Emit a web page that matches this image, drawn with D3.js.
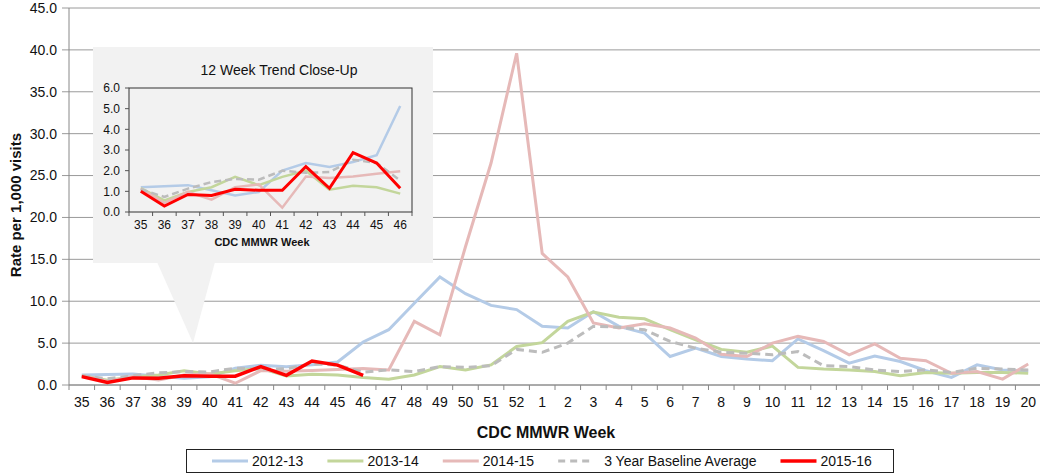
<html lang="en">
<head>
  <meta charset="utf-8"/>
  <title>ILI Rate per 1,000 visits</title>
  <script src="https://d3js.org/d3.v7.min.js"></script>
  <style>
  * { font-family: "Liberation Sans", Arial, sans-serif; }
  body { margin: 0; background: #fff; }
  .grid line { stroke: #9a9a9a; stroke-width: 1px; }
  .axis-lbl { font-size: 14px; fill: #111; }
  .title { font-weight: bold; fill: #111; }
  </style>
</head>
<body>
  <svg id="chart" width="1040" height="475"></svg>
  <script>
    const weeks = ["35","36","37","38","39","40","41","42","43","44","45","46","47","48","49","50","51","52",
                   "1","2","3","4","5","6","7","8","9","10","11","12","13","14","15","16","17","18","19","20"];
    const s1213 = [1.2,1.25,1.3,1.05,0.8,0.97,2.0,2.37,2.18,2.42,2.75,5.13,6.6,9.75,12.9,10.9,9.5,9.0,
                   7.0,6.8,8.75,7.0,6.2,3.4,4.4,3.4,3.1,2.9,5.5,4.1,2.6,3.46,2.8,1.7,0.9,2.4,1.8,1.67];
    const s1314 = [1.15,0.56,0.97,1.2,1.7,1.3,1.7,2.0,1.08,1.27,1.2,0.89,0.7,1.2,2.2,1.8,2.4,4.6,
                   5.05,7.6,8.7,8.1,7.9,6.6,5.4,4.25,3.9,4.65,2.1,1.9,1.8,1.6,1.1,1.5,1.4,1.5,1.5,1.4];
    const s1415 = [1.13,0.44,0.97,0.6,1.2,1.34,0.21,1.72,1.65,1.72,1.85,1.97,1.8,7.6,6.0,16.5,26.5,39.6,
                   15.7,12.9,7.4,6.8,7.3,6.8,5.6,3.66,3.4,5.0,5.8,5.2,3.6,4.9,3.2,2.9,1.4,1.6,0.7,2.5];
    const baseline = [1.1,0.73,1.13,1.45,1.6,1.56,2.0,1.9,1.93,2.53,2.37,1.53,1.8,1.6,2.2,2.1,2.3,4.25,
                   3.9,5.0,7.0,6.9,6.6,5.2,4.4,3.9,3.8,3.6,4.0,2.3,2.2,1.8,1.6,1.8,1.5,2.0,1.9,1.8];
    const s1516 = [1.0,0.29,0.85,0.8,1.1,1.05,1.05,2.2,1.15,2.87,2.37,1.15];
    const yTicks = [0,5,10,15,20,25,30,35,40,45];
    const insetTicks = [0,1,2,3,4,5,6];
    const insetWeeks = weeks.slice(0, 12);

    const series = [
      { name: "2012-13", values: s1213, color: "#b4cbe7", width: 3, dash: null },
      { name: "2013-14", values: s1314, color: "#c3d69b", width: 3, dash: null },
      { name: "2014-15", values: s1415, color: "#e6b9b8", width: 3, dash: null },
      { name: "3 Year Baseline Average", values: baseline, color: "#bcbcbc", width: 3, dash: "8,5" },
      { name: "2015-16", values: s1516, color: "#ff0000", width: 3.5, dash: null }
    ];

    const svg = d3.select("#chart");
    const plot = { left: 69, right: 1041, top: 8, bottom: 385 };

    const x = d3.scaleBand().domain(weeks).range([plot.left, plot.right]);
    const y = d3.scaleLinear().domain([0, 45]).range([plot.bottom, plot.top]);

    // gridlines + y labels
    const grid = svg.append("g").attr("class", "grid");
    grid.selectAll("line").data(yTicks).join("line")
      .attr("x1", plot.left - 7).attr("x2", 1040)
      .attr("y1", d => y(d)).attr("y2", d => y(d))
      .attr("stroke", d => d === 45 ? "#444" : "#9a9a9a")
      .attr("stroke-width", d => d === 45 ? 1.5 : 1);
    svg.append("g").selectAll("text").data(yTicks).join("text")
      .attr("class", "axis-lbl")
      .attr("x", plot.left - 12).attr("y", d => y(d)).attr("dy", "0.35em")
      .attr("text-anchor", "end")
      .text(d => d.toFixed(1));

    // axes lines
    svg.append("line").attr("x1", plot.left).attr("x2", plot.left)
      .attr("y1", plot.top).attr("y2", plot.bottom).attr("stroke", "#888");
    svg.append("line").attr("x1", plot.left).attr("x2", 1040)
      .attr("y1", plot.bottom).attr("y2", plot.bottom).attr("stroke", "#888");
    svg.append("g").selectAll("line").data(weeks).join("line")
      .attr("x1", d => x(d)).attr("x2", d => x(d))
      .attr("y1", plot.bottom).attr("y2", plot.bottom + 5).attr("stroke", "#888");
    svg.append("g").selectAll("text").data(weeks).join("text")
      .attr("class", "axis-lbl")
      .attr("x", d => x(d) + x.bandwidth() / 2).attr("y", 407)
      .attr("text-anchor", "middle")
      .text(d => d);

    // series lines
    const line = d3.line()
      .x((d, i) => x(weeks[i]) + x.bandwidth() / 2)
      .y(d => y(d));
    svg.append("g").selectAll("path").data(series).join("path")
      .attr("d", d => line(d.values))
      .attr("fill", "none")
      .attr("stroke", d => d.color)
      .attr("stroke-width", d => d.width)
      .attr("stroke-dasharray", d => d.dash)
      .attr("stroke-linejoin", "miter");

    // axis titles
    svg.append("text").attr("class", "title")
      .attr("transform", "translate(21,205) rotate(-90)")
      .attr("text-anchor", "middle").style("font-size", "15px")
      .text("Rate per 1,000 visits");
    svg.append("text").attr("class", "title")
      .attr("x", 546).attr("y", 438)
      .attr("text-anchor", "middle").style("font-size", "16px")
      .text("CDC MMWR Week");

    // inset callout
    const inset = svg.append("g");
    inset.append("path")
      .attr("d", "M157,262 L215,262 L193,343 Z")
      .attr("fill", "#f2f2f2");
    inset.append("rect")
      .attr("x", 93).attr("y", 47).attr("width", 340).attr("height", 216)
      .attr("fill", "#f2f2f2");
    inset.append("text")
      .attr("x", 279).attr("y", 75).attr("text-anchor", "middle")
      .style("font-size", "14px").attr("fill", "#111")
      .text("12 Week Trend Close-Up");

    const ix = d3.scaleBand().domain(insetWeeks).range([129, 412]);
    const iy = d3.scaleLinear().domain([0, 6]).range([212, 88]);

    inset.append("rect")
      .attr("x", 129).attr("y", 88).attr("width", 283).attr("height", 124)
      .attr("fill", "none").attr("stroke", "#333").attr("stroke-width", 1);
    inset.append("g").selectAll("line").data(insetWeeks.concat(["end"])).join("line")
      .attr("x1", (d, i) => ix(insetWeeks[0]) + i * ix.bandwidth())
      .attr("x2", (d, i) => ix(insetWeeks[0]) + i * ix.bandwidth())
      .attr("y1", 212).attr("y2", 216).attr("stroke", "#555");
    inset.append("g").selectAll("line").data(insetTicks).join("line")
      .attr("x1", 125).attr("x2", 129)
      .attr("y1", d => iy(d)).attr("y2", d => iy(d)).attr("stroke", "#555");
    inset.append("g").selectAll("text").data(insetTicks).join("text")
      .attr("x", 120).attr("y", d => iy(d)).attr("dy", "0.35em")
      .attr("text-anchor", "end").style("font-size", "12px").attr("fill", "#111")
      .text(d => d.toFixed(1));
    inset.append("g").selectAll("text").data(insetWeeks).join("text")
      .attr("x", d => ix(d) + ix.bandwidth() / 2).attr("y", 229)
      .attr("text-anchor", "middle").style("font-size", "12px").attr("fill", "#111")
      .text(d => d);
    inset.append("text")
      .attr("x", 262).attr("y", 246).attr("text-anchor", "middle")
      .style("font-size", "11px").style("font-weight", "bold").attr("fill", "#111")
      .text("CDC MMWR Week");

    const iline = d3.line()
      .x((d, i) => ix(insetWeeks[i]) + ix.bandwidth() / 2)
      .y(d => iy(d));
    inset.append("g").selectAll("path").data(series).join("path")
      .attr("d", d => iline(d.values.slice(0, 12)))
      .attr("fill", "none")
      .attr("stroke", d => d.color)
      .attr("stroke-width", d => d.name === "2015-16" ? 3 : 2.5)
      .attr("stroke-dasharray", d => d.dash ? "7,4" : null);

    // legend
    const legend = svg.append("g");
    legend.append("rect")
      .attr("x", 186.5).attr("y", 449.5).attr("width", 707).attr("height", 23)
      .attr("fill", "#fff").attr("stroke", "#222");
    let lx = 212;
    series.forEach(s => {
      legend.append("line")
        .attr("x1", lx).attr("x2", lx + 36).attr("y1", 461).attr("y2", 461)
        .attr("stroke", s.color).attr("stroke-width", s.width)
        .attr("stroke-dasharray", s.dash ? "7,5" : null);
      const t = legend.append("text")
        .attr("x", s.dash ? lx + 46 : lx + 40).attr("y", 466)
        .style("font-size", "14px").attr("fill", "#111")
        .text(s.name);
      lx = (s.dash ? lx + 46 : lx + 40) + t.node().getComputedTextLength() + 24;
    });
  </script>
</body>
</html>
